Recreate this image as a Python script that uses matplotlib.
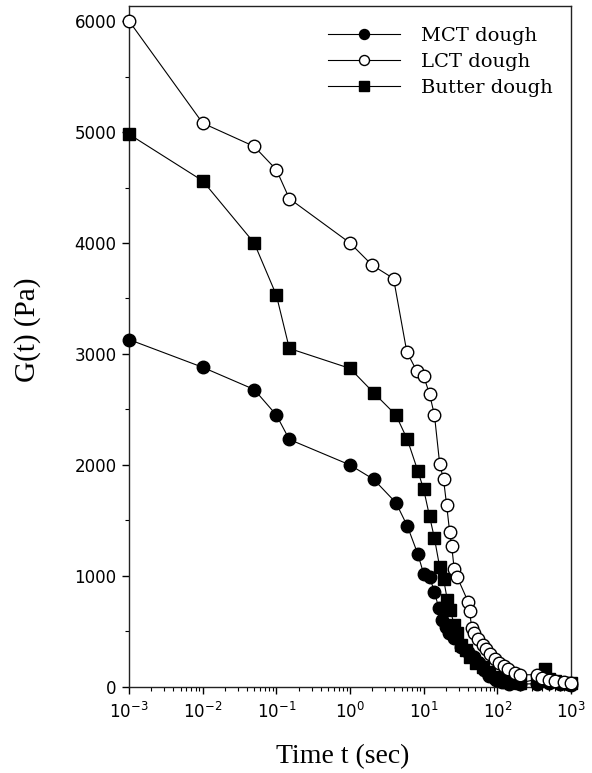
import matplotlib
matplotlib.use("Agg")
import matplotlib.pyplot as plt
from matplotlib.ticker import LogLocator, NullFormatter, MultipleLocator

# stress relaxation data
mct_t = [0.001, 0.01, 0.05, 0.1, 0.15, 1, 2.1, 4.2, 6, 8.3, 10, 12, 14, 16, 18, 20,
         22, 26, 32, 40, 48, 56, 65, 76, 95, 115, 145, 200, 350, 420, 500, 700, 900, 1000]
mct_g = [3130, 2880, 2680, 2450, 2230, 2000, 1870, 1660, 1450, 1200, 1020, 990, 860, 710,
         600, 540, 486, 440, 360, 315, 270, 216, 153, 95, 63, 42, 30, 25, 30, 60, 40, 30, 25, 22]

lct_t = [0.001, 0.01, 0.05, 0.1, 0.15, 1, 2, 3.9, 5.9, 8, 10, 12, 14, 16.5, 18.6, 20.5,
         22.5, 24, 26, 28.5, 40, 42, 45, 48, 55, 63, 70, 80, 92, 105, 123, 140, 175, 200,
         350, 400, 500, 600, 800, 1000]
lct_g = [6000, 5080, 4870, 4660, 4400, 4000, 3800, 3680, 3020, 2850, 2800, 2640, 2450, 2010,
         1870, 1640, 1400, 1270, 1060, 990, 770, 680, 530, 490, 430, 380, 340, 300, 250,
         215, 190, 160, 125, 110, 110, 80, 60, 50, 45, 40]

butter_t = [0.001, 0.01, 0.05, 0.1, 0.15, 1, 2.1, 4.2, 6, 8.3, 10, 12, 14, 16.5, 18.6, 21,
            23, 26, 28, 32, 37, 43, 52, 63, 76, 95, 115, 145, 200, 350, 440, 500, 600, 800, 1000]
butter_g = [4980, 4560, 4000, 3530, 3050, 2870, 2650, 2450, 2230, 1950, 1780, 1540, 1340,
            1080, 975, 780, 690, 560, 490, 380, 333, 270, 216, 180, 135, 90, 63, 45, 36,
            70, 160, 70, 50, 40, 35]

fig = plt.figure(figsize=(5.92, 7.73), dpi=100)
ax = fig.add_axes([0.218, 0.1113, 0.7465, 0.8809])

ax.plot(mct_t, mct_g, color="black", lw=0.8, marker="o", ms=9, mfc="black",
        mec="black", clip_on=False, label="MCT dough", zorder=3)
ax.plot(lct_t, lct_g, color="black", lw=0.8, marker="o", ms=9, mfc="white",
        mec="black", mew=1.0, clip_on=False, label="LCT dough", zorder=4)
ax.plot(butter_t, butter_g, color="black", lw=0.8, marker="s", ms=9, mfc="black",
        mec="black", clip_on=False, label="Butter dough", zorder=3)

ax.set_xscale("log")
ax.set_xlim(1e-3, 1e3)
ax.set_ylim(0, 6135)
ax.xaxis.set_major_locator(LogLocator(base=10, numticks=10))
ax.xaxis.set_minor_locator(LogLocator(base=10, subs=range(2, 10), numticks=20))
ax.xaxis.set_minor_formatter(NullFormatter())
ax.yaxis.set_major_locator(MultipleLocator(1000))
ax.yaxis.set_minor_locator(MultipleLocator(500))

ax.tick_params(which="major", direction="out", length=5, width=1, labelsize=12, pad=4)
ax.tick_params(which="minor", direction="out", length=3, width=0.8)
ax.tick_params(axis="x", which="major", pad=6)
ax.tick_params(top=False, right=False)
for s in ax.spines.values():
    s.set_linewidth(1.0)
    s.set_color("#222222")

ax.set_xlabel("Time t (sec)", family="Liberation Serif", fontsize=20)
ax.set_ylabel("G(t) (Pa)", family="Liberation Serif", fontsize=21)
ax.xaxis.set_label_coords(0.484, -0.084)
ax.yaxis.set_label_coords(-0.200, 0.524)

leg = ax.legend(loc="upper left", bbox_to_anchor=(0.45, 0.969), frameon=False,
                prop={"family": "DejaVu Serif", "size": 14}, handlelength=3.7,
                handletextpad=1.1, labelspacing=0.41, borderpad=0, borderaxespad=0,
                markerscale=0.8)

fig.savefig("out.png", dpi=100)
